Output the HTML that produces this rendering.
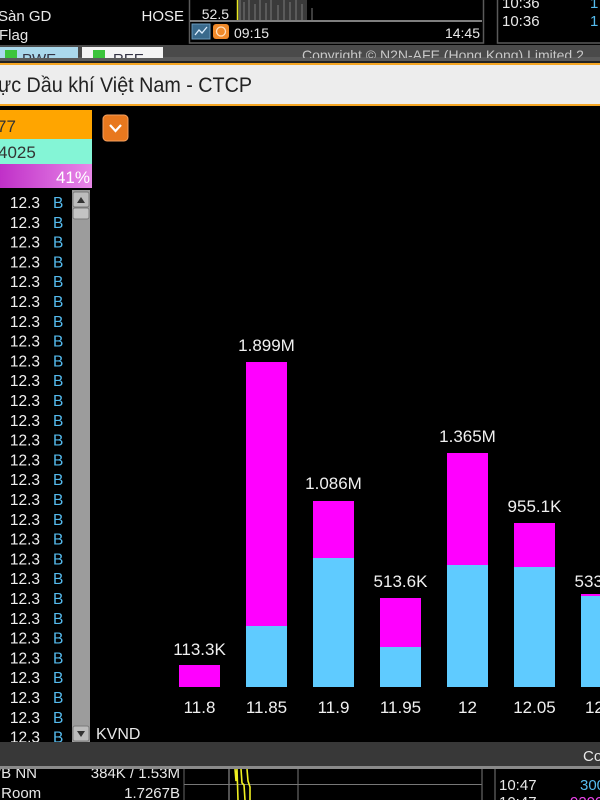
<!DOCTYPE html>
<html><head><meta charset="utf-8"><style>
html,body{margin:0;padding:0;background:#000;width:600px;height:800px;overflow:hidden}
svg{display:block}
text{font-family:"Liberation Sans","DejaVu Sans",sans-serif}
</style></head><body>
<svg width="600" height="800" viewBox="0 0 600 800" xmlns="http://www.w3.org/2000/svg">
<rect x="0" y="0" width="600" height="800" fill="#000"/>

<!-- top area -->
<text x="-2" y="21" font-size="15" fill="#e8e8e8">Sàn GD</text>
<text x="-1" y="40" font-size="15" fill="#e8e8e8">Flag</text>
<text x="184" y="21" font-size="15" fill="#f0f0f0" text-anchor="end">HOSE</text>
<!-- mini chart box -->
<rect x="189.5" y="-2" width="294" height="45" fill="#000" stroke="#5a5a5a" stroke-width="1.5"/>
<rect x="237" y="0" width="70" height="20" fill="#3a3a3a"/>
<g stroke="#7a7a7a" stroke-width="1">
<line x1="240" y1="0" x2="240" y2="20"/><line x1="244" y1="2" x2="244" y2="20"/><line x1="249" y1="0" x2="249" y2="20"/>
<line x1="255" y1="4" x2="255" y2="20"/><line x1="260" y1="0" x2="260" y2="20"/><line x1="266" y1="3" x2="266" y2="20"/>
<line x1="271" y1="0" x2="271" y2="20"/><line x1="278" y1="5" x2="278" y2="20"/><line x1="284" y1="0" x2="284" y2="20"/>
<line x1="290" y1="2" x2="290" y2="20"/><line x1="296" y1="0" x2="296" y2="20"/><line x1="302" y1="4" x2="302" y2="20"/>
<line x1="312" y1="8" x2="312" y2="20"/>
</g>
<line x1="237.5" y1="0" x2="237.5" y2="20" stroke="#e8e820" stroke-width="1.5"/>
<line x1="190" y1="21" x2="482" y2="21" stroke="#a8a8a8" stroke-width="1.5"/>
<text x="229" y="19" font-size="14" fill="#e8e8e8" text-anchor="end">52.5</text>
<rect x="192" y="24" width="18" height="15" fill="#3a6a8c" stroke="#6a9abc" stroke-width="1"/>
<polyline points="195,35 199,30 202,33 207,27" fill="none" stroke="#dfefff" stroke-width="1.3"/>
<rect x="213" y="24" width="16" height="15" rx="3" fill="#f08a2a"/>
<circle cx="221" cy="31.5" r="4.5" fill="none" stroke="#ffe0c0" stroke-width="1.3"/>
<text x="234" y="38" font-size="14" fill="#e8e8e8">09:15</text>
<text x="480" y="38" font-size="14" fill="#e8e8e8" text-anchor="end">14:45</text>
<!-- right top panel -->
<rect x="497.5" y="-2" width="110" height="45" fill="#000" stroke="#5a5a5a" stroke-width="1.5"/>
<text x="502" y="8" font-size="15" fill="#e8e8e8">10:36</text>
<text x="502" y="26" font-size="15" fill="#e8e8e8">10:36</text>
<text x="590" y="8" font-size="15" fill="#55bbee">1</text>
<text x="590" y="26" font-size="15" fill="#55bbee">1</text>

<!-- tabs strip -->
<rect x="0" y="45" width="600" height="15" fill="#4a4a4a"/>
<rect x="0" y="57" width="600" height="4" fill="#5a5a5a"/>
<svg x="0" y="45" width="600" height="13" overflow="hidden">
<rect x="0" y="2" width="78" height="13" fill="#aad8ec"/>
<rect x="5" y="5" width="12" height="10" fill="#3cc43c"/>
<text x="22" y="19" font-size="15" fill="#334">PWE</text>
<rect x="82" y="2" width="81" height="13" fill="#f4f4f4"/>
<rect x="93" y="5" width="12" height="10" fill="#3cc43c"/>
<text x="113" y="19" font-size="15" fill="#334">REE</text>
<text x="302" y="15" font-size="14" fill="#c8c8c8">Copyright © N2N-AFE (Hong Kong) Limited 2</text>
</svg>

<!-- title bar -->
<rect x="0" y="61" width="600" height="2" fill="#222"/>
<rect x="0" y="63" width="600" height="2" fill="#f5a623"/>
<rect x="0" y="65" width="600" height="39" fill="#ededed"/>
<rect x="0" y="104" width="600" height="2" fill="#f5a623"/>
<text x="-2" y="92" font-size="21" fill="#222" textLength="254" lengthAdjust="spacingAndGlyphs">ực Dầu khí Việt Nam - CTCP</text>

<!-- left panel colored rows -->
<rect x="0" y="110" width="92" height="29" fill="#ffa500"/>
<text x="-3" y="132" font-size="17" fill="#333">77</text>
<rect x="0" y="139" width="92" height="25" fill="#84f5d6"/>
<text x="-2" y="158" font-size="17" fill="#333">4025</text>
<defs><linearGradient id="mg" x1="0" x2="1" y1="0" y2="0"><stop offset="0" stop-color="#c030c8"/><stop offset="1" stop-color="#e888e8"/></linearGradient></defs>
<rect x="0" y="164" width="92" height="24" fill="url(#mg)"/>
<text x="90" y="183" font-size="17" fill="#fff" text-anchor="end">41%</text>

<!-- list -->
<svg x="0" y="190" width="72" height="552" overflow="hidden">
<g font-size="15.5">
<g fill="#f0f0f0" text-anchor="end">
<text x="40" y="18">12.3</text><text x="40" y="37.8">12.3</text><text x="40" y="57.6">12.3</text><text x="40" y="77.4">12.3</text>
<text x="40" y="97.2">12.3</text><text x="40" y="117">12.3</text><text x="40" y="136.8">12.3</text><text x="40" y="156.6">12.3</text>
<text x="40" y="176.4">12.3</text><text x="40" y="196.2">12.3</text><text x="40" y="216">12.3</text><text x="40" y="235.8">12.3</text>
<text x="40" y="255.6">12.3</text><text x="40" y="275.4">12.3</text><text x="40" y="295.2">12.3</text><text x="40" y="315">12.3</text>
<text x="40" y="334.8">12.3</text><text x="40" y="354.6">12.3</text><text x="40" y="374.4">12.3</text><text x="40" y="394.2">12.3</text>
<text x="40" y="414">12.3</text><text x="40" y="433.8">12.3</text><text x="40" y="453.6">12.3</text><text x="40" y="473.4">12.3</text>
<text x="40" y="493.2">12.3</text><text x="40" y="513">12.3</text><text x="40" y="532.8">12.3</text><text x="40" y="552.6">12.3</text>
</g>
<g fill="#55bbee">
<text x="53" y="18">B</text><text x="53" y="37.8">B</text><text x="53" y="57.6">B</text><text x="53" y="77.4">B</text>
<text x="53" y="97.2">B</text><text x="53" y="117">B</text><text x="53" y="136.8">B</text><text x="53" y="156.6">B</text>
<text x="53" y="176.4">B</text><text x="53" y="196.2">B</text><text x="53" y="216">B</text><text x="53" y="235.8">B</text>
<text x="53" y="255.6">B</text><text x="53" y="275.4">B</text><text x="53" y="295.2">B</text><text x="53" y="315">B</text>
<text x="53" y="334.8">B</text><text x="53" y="354.6">B</text><text x="53" y="374.4">B</text><text x="53" y="394.2">B</text>
<text x="53" y="414">B</text><text x="53" y="433.8">B</text><text x="53" y="453.6">B</text><text x="53" y="473.4">B</text>
<text x="53" y="493.2">B</text><text x="53" y="513">B</text><text x="53" y="532.8">B</text><text x="53" y="552.6">B</text>
</g>
</g>
</svg>
<!-- scrollbar -->
<rect x="72" y="190" width="18" height="552" fill="#9c9c9c"/>
<rect x="73" y="192" width="16" height="15" rx="2" fill="#bcbcbc" stroke="#7a7a7a" stroke-width="1"/>
<polygon points="77,203 81,197 85,203" fill="#333"/>
<rect x="73" y="208" width="16" height="11" rx="2" fill="#c4c4c4" stroke="#7a7a7a" stroke-width="1"/>
<rect x="73" y="726" width="16" height="15" rx="2" fill="#bcbcbc" stroke="#7a7a7a" stroke-width="1"/>
<polygon points="77,731 85,731 81,737" fill="#333"/>
<text x="96" y="739" font-size="16" fill="#e8e8e8">KVND</text>

<!-- dropdown button -->
<rect x="103" y="115" width="25" height="26" rx="4" fill="#e8781e" stroke="#f4a060" stroke-width="1"/>
<polyline points="110,125 115.5,131 121,125" fill="none" stroke="#fff" stroke-width="2.2"/>

<!-- bars -->
<g>
<rect x="179" y="665" width="41" height="22" fill="#ff00ff"/>
<rect x="246" y="362" width="41" height="264" fill="#ff00ff"/>
<rect x="246" y="626" width="41" height="61" fill="#5fcbff"/>
<rect x="313" y="501" width="41" height="57" fill="#ff00ff"/>
<rect x="313" y="558" width="41" height="129" fill="#5fcbff"/>
<rect x="380" y="598" width="41" height="49" fill="#ff00ff"/>
<rect x="380" y="647" width="41" height="40" fill="#5fcbff"/>
<rect x="447" y="453" width="41" height="112" fill="#ff00ff"/>
<rect x="447" y="565" width="41" height="122" fill="#5fcbff"/>
<rect x="514" y="523" width="41" height="44" fill="#ff00ff"/>
<rect x="514" y="567" width="41" height="120" fill="#5fcbff"/>
<rect x="581" y="594" width="41" height="2" fill="#ff00ff"/>
<rect x="581" y="596" width="41" height="91" fill="#5fcbff"/>
</g>
<g font-size="17" fill="#f0f0f0" text-anchor="middle">
<text x="199.5" y="655">113.3K</text>
<text x="266.5" y="351">1.899M</text>
<text x="333.5" y="489">1.086M</text>
<text x="400.5" y="587">513.6K</text>
<text x="467.5" y="442">1.365M</text>
<text x="534.5" y="512">955.1K</text>
<text x="601.5" y="587">533.1K</text>
<text x="199.5" y="713">11.8</text>
<text x="266.5" y="713">11.85</text>
<text x="333.5" y="713">11.9</text>
<text x="400.5" y="713">11.95</text>
<text x="467.5" y="713">12</text>
<text x="534.5" y="713">12.05</text>
<text x="601.5" y="713">12.1</text>
</g>

<!-- bottom band -->
<rect x="0" y="742" width="600" height="24" fill="#383838"/>
<text x="583" y="761" font-size="15" fill="#e8e8e8">Co</text>
<rect x="0" y="766" width="600" height="3" fill="#8a8a8a"/>
<rect x="0" y="769" width="600" height="31" fill="#000"/>
<svg x="0" y="769" width="600" height="31" overflow="hidden">
<text x="-3" y="9" font-size="15" fill="#e8e8e8">/B NN</text>
<text x="180" y="9" font-size="15" fill="#e8e8e8" text-anchor="end">384K / 1.53M</text>
<text x="-3" y="29" font-size="15" fill="#e8e8e8">.Room</text>
<text x="180" y="29" font-size="15" fill="#e8e8e8" text-anchor="end">1.7267B</text>
<line x1="184" y1="0" x2="184" y2="31" stroke="#444" stroke-width="1.5"/>
<line x1="229" y1="0" x2="229" y2="31" stroke="#888" stroke-width="1.2"/>
<line x1="298" y1="0" x2="298" y2="31" stroke="#666" stroke-width="1.2"/>
<line x1="184" y1="15.5" x2="482" y2="15.5" stroke="#777" stroke-width="1"/>
<polyline points="235,0 236,12 237,0 238,31" fill="none" stroke="#f0f020" stroke-width="1.6"/>
<polyline points="241,0 242,14 244,16 245,31" fill="none" stroke="#f0f020" stroke-width="1.6"/>
<polyline points="247,0 248,12 250,18 250,31" fill="none" stroke="#f0f020" stroke-width="1.6"/>
<line x1="482" y1="0" x2="482" y2="31" stroke="#666" stroke-width="1.2"/>
<line x1="495" y1="0" x2="495" y2="31" stroke="#666" stroke-width="1.2"/>
<text x="499" y="21" font-size="15" fill="#e8e8e8">10:47</text>
<text x="580" y="21" font-size="15" fill="#55bbee">300</text>
<text x="499" y="38" font-size="15" fill="#e8e8e8">10:47</text>
<text x="570" y="38" font-size="15" fill="#ee44ee">9200</text>
</svg>
</svg>
</body></html>
